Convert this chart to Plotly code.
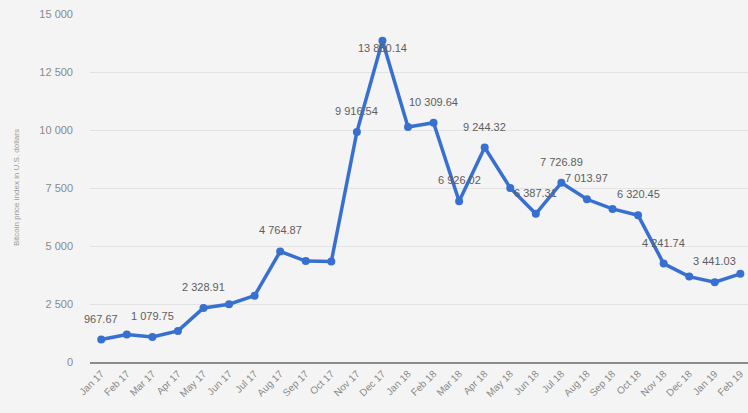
import plotly.graph_objects as go

months = ["Jan 17", "Feb 17", "Mar 17", "Apr 17", "May 17", "Jun 17", "Jul 17", "Aug 17",
          "Sep 17", "Oct 17", "Nov 17", "Dec 17", "Jan 18", "Feb 18", "Mar 18", "Apr 18",
          "May 18", "Jun 18", "Jul 18", "Aug 18", "Sep 18", "Oct 18", "Nov 18", "Dec 18",
          "Jan 19", "Feb 19"]
values = [967.67, 1180, 1079.75, 1340, 2328.91, 2490, 2860, 4764.87,
          4350, 4330, 9916.54, 13850.14, 10130, 10309.64, 6926.02, 9244.32,
          7500, 6387.31, 7726.89, 7013.97, 6600, 6320.45, 4241.74, 3680,
          3441.03, 3800]
labelled = [True, False, True, False, True, False, False, True,
            False, False, True, True, False, True, True, True,
            False, True, True, True, False, True, True, False,
            True, False]
y_ticks = [0, 2500, 5000, 7500, 10000, 12500, 15000]
y_title = "Bitcoin price index in U.S. dollars"


def fmt(v, dec=2):
    return f"{v:,.{dec}f}".replace(",", " ")


fig = go.Figure()
fig.add_trace(go.Scatter(
    x=months, y=values, mode="lines+markers",
    line=dict(color="#3770d0", width=3.5),
    marker=dict(color="#3770d0", size=8),
    cliponaxis=False, hoverinfo="skip",
))

for m, v, show in zip(months, values, labelled):
    if not show:
        continue
    fig.add_annotation(
        x=m, y=v, text=fmt(v), showarrow=False,
        yanchor="middle", xanchor="center",
        yshift=-7 if v == max(values) else 21,
        font=dict(family="Liberation Sans, Arial, sans-serif", size=11, color="#5e5e5e"),
    )

fig.add_annotation(
    xref="paper", yref="paper", x=(16 - 90) / 658, y=0.5,
    text=y_title, textangle=-90, showarrow=False,
    xanchor="center", yanchor="middle",
    font=dict(family="Liberation Sans, Arial, sans-serif", size=8, color="#9a9a9a"),
)

fig.update_layout(
    width=748, height=413,
    margin=dict(l=90, r=0, t=14, b=51, autoexpand=False),
    paper_bgcolor="#f4f4f4", plot_bgcolor="#f4f4f4",
    separators=". ",
    showlegend=False,
    font=dict(family="Liberation Sans, Arial, sans-serif", size=10, color="#8a8a8a"),
)
fig.update_xaxes(
    type="category", range=[-0.44, 25.3],
    tickangle=-45, showgrid=False, ticks="",
    showline=True, linecolor="#8c8c8c", linewidth=2,
    tickfont=dict(size=10, color="#8a8a8a"),
    automargin=False,
)
fig.update_yaxes(
    range=[0, 15000], tickvals=y_ticks,
    ticktext=[fmt(t, 0) for t in y_ticks],
    showgrid=True, gridcolor="#e3e3e3", gridwidth=1,
    zeroline=False, ticks="", ticklabelstandoff=16,
    tickfont=dict(size=11, color="#8a8a8a"),
    automargin=False,
)

fig.write_html(
    "out.html",
    config={"displayModeBar": False},
    post_script="document.body.style.margin='0';document.body.style.background='#f4f4f4';",
)
